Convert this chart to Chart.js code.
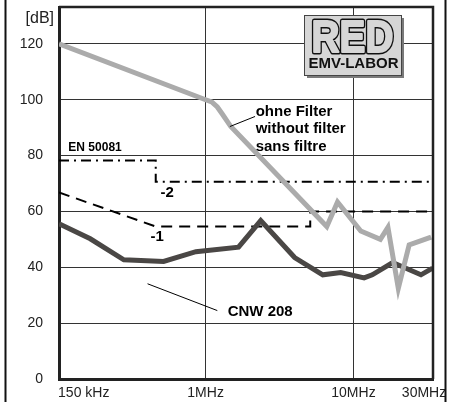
<!DOCTYPE html>
<html>
<head>
<meta charset="utf-8">
<script src="https://cdn.jsdelivr.net/npm/chart.js@4"></script>
<style>
  html, body { margin: 0; padding: 0; background: #fff; }
  #wrap { width: 451px; height: 402px; }
</style>
</head>
<body>
<div id="wrap"><canvas id="emvChart" width="451" height="402"></canvas></div>
<script>
// frequencies in MHz, levels in dB
const freqWithout = [0.102, 1.0, 1.1, 1.2, 1.3, 1.48, 6.6, 7.8, 11.2, 15.2, 17.1, 20.1, 23.8, 33.5];
const levelWithout = [120, 100, 99.2, 97.4, 94.8, 90.4, 54.6, 63.4, 53.0, 50.0, 54.3, 32.5, 48.0, 50.8];

const freqCnw = [0.102, 0.166, 0.28, 0.52, 0.86, 1.67, 2.36, 4.0, 6.2, 8.2, 11.8, 13.4, 18.4, 28.6, 34.3];
const levelCnw = [55.6, 50.2, 42.7, 42.1, 45.6, 47.2, 56.7, 43.5, 37.3, 38.1, 36.2, 37.3, 41.7, 37.3, 39.7];

const freqLimit1 = [0.102, 0.46, 5.1, 5.1, 33];
const levelLimit1 = [66.8, 54.6, 54.6, 60, 60];

const freqLimit2 = [0.102, 0.46, 0.46, 33];
const levelLimit2 = [78.2, 78.2, 70.6, 70.6];

const yTicks = [0, 20, 40, 60, 80, 100, 120];
const xTicks = [0.15, 1, 10, 30];
const xTickLabels = ["150 kHz", "1MHz", "10MHz", "30MHz"];

const toPoints = (xs, ys) => xs.map((x, i) => ({ x: x, y: ys[i] }));

// text labels placed in data coordinates (MHz, dB)
const notes = [
  { text: "EN 50081", x: 0.118, y: 82.8, font: "bold 12px 'Liberation Sans', Arial, sans-serif" },
  { text: "-2", x: 0.496, y: 66.7, font: "bold 15px 'Liberation Sans', Arial, sans-serif" },
  { text: "-1", x: 0.424, y: 50.9, font: "bold 15px 'Liberation Sans', Arial, sans-serif" },
  { text: "ohne Filter", x: 2.18, y: 95.7, font: "bold 15px 'Liberation Sans', Arial, sans-serif" },
  { text: "without filter", x: 2.18, y: 89.6, font: "bold 15px 'Liberation Sans', Arial, sans-serif" },
  { text: "sans filtre", x: 2.18, y: 83.3, font: "bold 15px 'Liberation Sans', Arial, sans-serif" },
  { text: "CNW 208", x: 1.41, y: 24.1, font: "bold 15px 'Liberation Sans', Arial, sans-serif" }
];
const leaders = [
  { x1: 2.16, y1: 94.0, x2: 1.46, y2: 90.4 },
  { x1: 0.405, y1: 34.1, x2: 1.2, y2: 24.5 }
];

const overlay = {
  id: "overlay",
  afterDraw(chart) {
    const ctx = chart.ctx;
    const area = chart.chartArea;
    const xs = chart.scales.x, ys = chart.scales.y;
    ctx.save();

    // frame top/right of plot area
    ctx.strokeStyle = "#222";
    ctx.lineWidth = 2.5;
    ctx.beginPath();
    ctx.moveTo(area.left, area.top);
    ctx.lineTo(area.right, area.top);
    ctx.lineTo(area.right, area.bottom);
    ctx.stroke();

    // outer picture frame (left / right)
    ctx.lineWidth = 2;
    ctx.strokeStyle = "#111";
    ctx.beginPath();
    ctx.moveTo(5.5, 0); ctx.lineTo(5.5, 402);
    ctx.moveTo(445.5, 0); ctx.lineTo(445.5, 402);
    ctx.stroke();

    // unit
    ctx.fillStyle = "#222";
    ctx.font = "16px 'Liberation Sans', Arial, sans-serif";
    ctx.textAlign = "right";
    ctx.textBaseline = "middle";
    ctx.fillText("[dB]", area.left - 5, area.top + 12);

    // notes
    ctx.fillStyle = "#000";
    ctx.textAlign = "left";
    notes.forEach(n => {
      ctx.font = n.font;
      ctx.fillText(n.text, xs.getPixelForValue(n.x), ys.getPixelForValue(n.y));
    });

    ctx.strokeStyle = "#000";
    ctx.lineWidth = 1;
    leaders.forEach(l => {
      ctx.beginPath();
      ctx.moveTo(xs.getPixelForValue(l.x1), ys.getPixelForValue(l.y1));
      ctx.lineTo(xs.getPixelForValue(l.x2), ys.getPixelForValue(l.y2));
      ctx.stroke();
    });

    // logo box
    const bx = 304, by = 15, bw = 97, bh = 60;
    ctx.fillStyle = "#7a7a7a";
    ctx.fillRect(bx + 3, by + 3, bw, bh);
    ctx.fillStyle = "#d6d6d6";
    ctx.fillRect(bx, by, bw, bh);
    ctx.strokeStyle = "#444";
    ctx.lineWidth = 1;
    ctx.strokeRect(bx + 0.5, by + 0.5, bw, bh);

    ctx.save();
    ctx.translate(bx + bw / 2, by + 37);
    ctx.scale(0.88, 1);
    ctx.font = "bold 44px 'Liberation Sans', Arial, sans-serif";
    ctx.textAlign = "center";
    ctx.textBaseline = "alphabetic";
    ctx.lineJoin = "round";
    ctx.strokeStyle = "#111";
    ctx.lineWidth = 5;
    ctx.strokeText("RED", 0, 0);
    ctx.strokeStyle = "#d6d6d6";
    ctx.lineWidth = 2;
    ctx.strokeText("RED", 0, 0);
    ctx.fillStyle = "#d6d6d6";
    ctx.fillText("RED", 0, 0);
    ctx.restore();

    ctx.fillStyle = "#111";
    ctx.font = "bold 15px 'Liberation Sans', Arial, sans-serif";
    ctx.textAlign = "center";
    ctx.textBaseline = "middle";
    ctx.fillText("EMV-LABOR", bx + bw / 2 + 1, by + 49);

    ctx.restore();
  }
};

const emvChart = new Chart(document.getElementById("emvChart"), {
  type: "line",
  data: {
    datasets: [
      {
        label: "ohne Filter",
        data: toPoints(freqWithout, levelWithout),
        borderColor: "#ababab",
        borderWidth: 5,
        pointRadius: 0,
        tension: 0,
        order: 0
      },
      {
        label: "CNW 208",
        data: toPoints(freqCnw, levelCnw),
        borderColor: "#4a4745",
        borderWidth: 5,
        pointRadius: 0,
        tension: 0,
        order: 1
      },
      {
        label: "EN 50081-1",
        data: toPoints(freqLimit1, levelLimit1),
        borderColor: "#000",
        borderWidth: 2,
        borderDash: [11, 7],
        pointRadius: 0,
        tension: 0,
        order: 2
      },
      {
        label: "EN 50081-2",
        data: toPoints(freqLimit2, levelLimit2),
        borderColor: "#000",
        borderWidth: 2,
        borderDash: [10, 5, 2, 5],
        pointRadius: 0,
        tension: 0,
        order: 2
      }
    ]
  },
  options: {
    responsive: false,
    animation: false,
    devicePixelRatio: 1,
    layout: { padding: { left: 0, top: 7, right: 18, bottom: 0 } },
    plugins: {
      legend: { display: false },
      tooltip: { enabled: false }
    },
    scales: {
      x: {
        type: "logarithmic",
        min: 0.102,
        max: 34.5,
        afterBuildTicks: s => { s.ticks = xTicks.map(v => ({ value: v })); },
        afterFit: s => { s.height = 23; s.paddingLeft = 0; s.paddingRight = 0; },
        ticks: {
          autoSkip: false,
          maxRotation: 0,
          padding: 6,
          color: "#222",
          font: { family: "'Liberation Sans', Arial, sans-serif", size: 14 },
          callback: (v, i) => xTickLabels[i]
        },
        grid: {
          drawTicks: false,
          lineWidth: 1,
          color: c => (c.tick && (c.tick.value === 1 || c.tick.value === 10)) ? "#333" : "rgba(0,0,0,0)"
        },
        border: { display: true, color: "#222", width: 3 }
      },
      y: {
        min: 0,
        max: 133.2,
        afterBuildTicks: s => { s.ticks = yTicks.map(v => ({ value: v })); },
        afterFit: s => { s.width = 59; s.paddingTop = 0; s.paddingBottom = 0; },
        ticks: {
          padding: 16,
          color: "#222",
          font: { family: "'Liberation Sans', Arial, sans-serif", size: 14 }
        },
        grid: { drawTicks: false, lineWidth: 1, color: "#333" },
        border: { display: true, color: "#222", width: 3 }
      }
    }
  },
  plugins: [overlay]
});
</script>
</body>
</html>
